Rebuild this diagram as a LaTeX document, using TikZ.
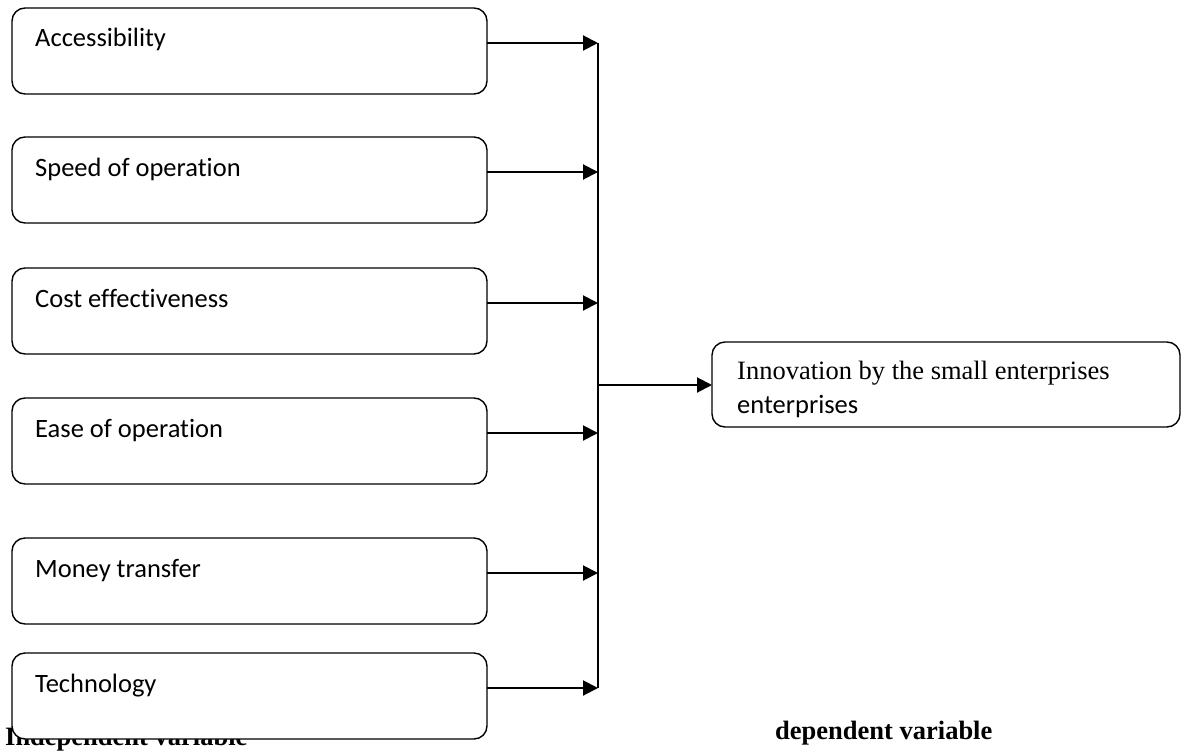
\documentclass[tikz,border=0pt]{standalone}
\usepackage{fontspec}
\setmainfont{Liberation Serif}
\newfontfamily\boxfont[Ligatures=NoCommon]{Carlito}
\usetikzlibrary{arrows.meta}
\begin{document}
\begin{tikzpicture}[x=1pt,y=-1pt,
  varbox/.style={draw=black,line width=1.4pt,fill=white,rounded corners=13pt},
  boxtext/.style={anchor=base west,inner sep=0pt,font=\boxfont\fontsize{26.5}{31}\selectfont},
  link/.style={line width=2pt,-{Triangle[length=15pt,width=15pt]}},
  caption/.style={anchor=base west,inner sep=0pt,font=\bfseries\fontsize{26.5}{31}\selectfont}]
\useasboundingbox (0,0) rectangle (1182,752);

% axis captions (the left one sits partly under the last box)
\node[caption] (indep) at (5,745) {Independent variable};
\node[caption] (dep) at (775,739) {dependent variable};

% independent variables
\foreach \name/\top/\label in {a/8/Accessibility, b/137/Speed of operation,
  c/268/Cost effectiveness, d/398/Ease of operation, e/538/Money transfer, f/653/Technology}{
  \draw[varbox] (12,\top) rectangle (487,\top+86);
  \coordinate (\name) at (487,\top+35);
  \node[boxtext] (\name t) at (35,\top+39) {\label};
}

% collector bar
\coordinate (bartop) at (598,43);
\coordinate (barbot) at (598,688);
\draw[line width=1.6pt] (bartop) -- (barbot);
\foreach \name in {a,b,c,d,e,f}{
  \coordinate (\name e) at (598,0 |- \name);
  \draw[link] (\name) -- (\name e);
}

% dependent variable
\draw[varbox] (712,342) rectangle (1180,427);
\coordinate (din) at (712,385);
\coordinate (dsrc) at (598,385);
\draw[link] (dsrc) -- (din);
\node[anchor=base west,inner sep=0pt,font=\fontsize{26.5}{31}\selectfont] (dl1) at (737,379) {Innovation by the small enterprises};
\node[boxtext] (dl2) at (737,413) {enterprises};
\end{tikzpicture}
\end{document}
